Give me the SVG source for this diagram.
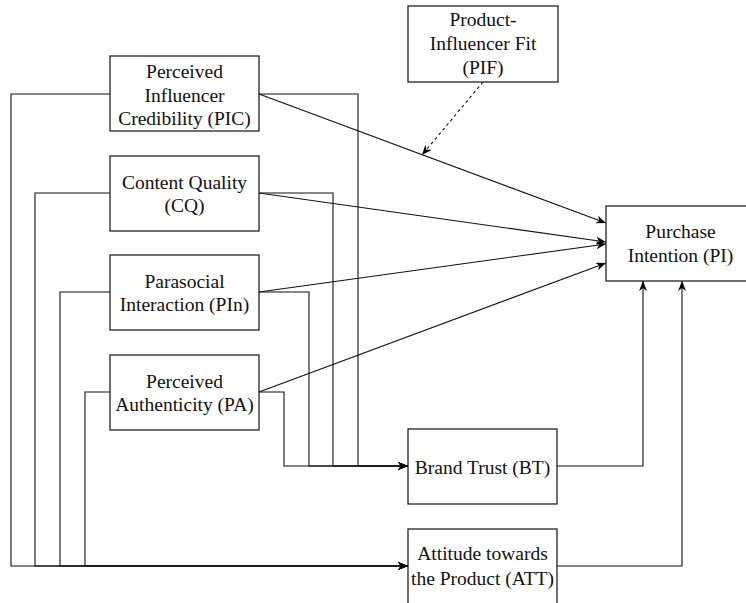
<svg xmlns="http://www.w3.org/2000/svg" width="746" height="603" viewBox="0 0 746 603">
<defs>
<marker id="arr" viewBox="0 0 10 8" refX="10" refY="4" markerWidth="10" markerHeight="8" markerUnits="userSpaceOnUse" orient="auto">
<path d="M0,0 L10,4 L0,8 L3,4 Z" fill="#000"/>
</marker>
</defs>
<style>
rect.box{fill:#fff;stroke:#222;stroke-width:1.3}
text{font-family:'Liberation Serif','DejaVu Serif',serif;font-size:19.5px;fill:#111;text-anchor:middle}
.c{fill:none;stroke:#111;stroke-width:1.1}
.d{stroke-dasharray:3,3}
</style>
<rect width="746" height="603" fill="#fff"/>
<g id="connectors">
<path class="c" d="M259,94 L606,223" marker-end="url(#arr)"/>
<path class="c" d="M259,193 L606,242" marker-end="url(#arr)"/>
<path class="c" d="M259,292 L606,244" marker-end="url(#arr)"/>
<path class="c" d="M259,392 L606,263" marker-end="url(#arr)"/>
<path class="c d" d="M483,82 L422,155" marker-end="url(#arr)"/>
<path class="c" d="M110,94 L11,94 L11,566 L408,566" marker-end="url(#arr)"/>
<path class="c" d="M110,193 L35,193 L35,566 L408,566" marker-end="url(#arr)"/>
<path class="c" d="M110,292 L60,292 L60,566 L408,566" marker-end="url(#arr)"/>
<path class="c" d="M110,392 L85,392 L85,566 L408,566" marker-end="url(#arr)"/>
<path class="c" d="M259,94 L358,94 L358,466 L408,466" marker-end="url(#arr)"/>
<path class="c" d="M259,193 L333,193 L333,466 L408,466" marker-end="url(#arr)"/>
<path class="c" d="M259,292 L309,292 L309,466 L408,466" marker-end="url(#arr)"/>
<path class="c" d="M259,392 L284,392 L284,466 L408,466" marker-end="url(#arr)"/>
<path class="c" d="M557,466 L643,466 L643,281" marker-end="url(#arr)"/>
<path class="c" d="M557,566 L682,566 L682,281" marker-end="url(#arr)"/>
</g>
<g id="PIC">
<rect class="box" x="110" y="56" width="149" height="75"/>
<text x="184.5" y="78" font-family="Liberation Serif">Perceived</text>
<text x="184.5" y="101.5" font-family="Liberation Serif">Influencer</text>
<text x="184.5" y="125" font-family="Liberation Serif">Credibility (PIC)</text>
</g>
<g id="CQ">
<rect class="box" x="110" y="156" width="149" height="75"/>
<text x="184.5" y="188.5">Content Quality</text>
<text x="184.5" y="212">(CQ)</text>
</g>
<g id="PIn">
<rect class="box" x="110" y="255" width="149" height="75"/>
<text x="184.5" y="287.5">Parasocial</text>
<text x="184.5" y="311">Interaction (PIn)</text>
</g>
<g id="PA">
<rect class="box" x="110" y="355" width="149" height="75"/>
<text x="184.5" y="387.5">Perceived</text>
<text x="184.5" y="411">Authenticity (PA)</text>
</g>
<g id="PIF">
<rect class="box" x="408" y="6" width="150" height="76"/>
<text x="483" y="26">Product-</text>
<text x="483" y="50">Influencer Fit</text>
<text x="483" y="74">(PIF)</text>
</g>
<g id="PI">
<rect class="box" x="606" y="206" width="149" height="75"/>
<text x="680.5" y="237.5">Purchase</text>
<text x="680.5" y="261.5">Intention (PI)</text>
</g>
<g id="BT">
<rect class="box" x="408" y="429" width="149" height="75"/>
<text x="482.5" y="474">Brand Trust (BT)</text>
</g>
<g id="ATT">
<rect class="box" x="408" y="529" width="149" height="75"/>
<text x="482.5" y="560">Attitude towards</text>
<text x="482.5" y="585">the Product (ATT)</text>
</g>
</svg>
